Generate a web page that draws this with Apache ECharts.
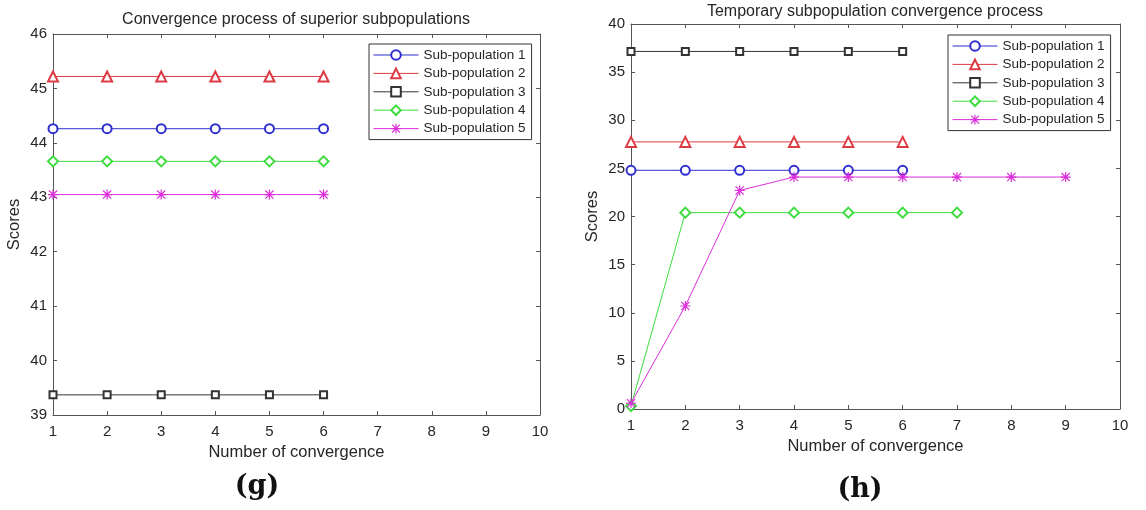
<!DOCTYPE html>
<html>
<head>
<meta charset="utf-8">
<title>Subpopulation convergence</title>
<script src="https://cdn.jsdelivr.net/npm/echarts@6/dist/echarts.min.js"></script>
<style>
  html, body { margin: 0; padding: 0; background: #fff; }
  #chart { width: 1146px; height: 510px; }
</style>
</head>
<body>
<div id="chart"></div>
<script>
// ---- data ----
const seriesNames = ['Sub-population 1', 'Sub-population 2', 'Sub-population 3', 'Sub-population 4', 'Sub-population 5'];

// (g) superior subpopulations: scores per convergence step
const superiorSteps = [1, 2, 3, 4, 5, 6];
const superiorSub1 = [44.26, 44.26, 44.26, 44.26, 44.26, 44.26];
const superiorSub2 = [45.22, 45.22, 45.22, 45.22, 45.22, 45.22];
const superiorSub3 = [39.37, 39.37, 39.37, 39.37, 39.37, 39.37];
const superiorSub4 = [43.66, 43.66, 43.66, 43.66, 43.66, 43.66];
const superiorSub5 = [43.05, 43.05, 43.05, 43.05, 43.05, 43.05];

// (h) temporary subpopulations: scores per convergence step
const tempSteps1 = [1, 2, 3, 4, 5, 6];
const tempSub1 = [24.8, 24.8, 24.8, 24.8, 24.8, 24.8];
const tempSteps2 = [1, 2, 3, 4, 5, 6];
const tempSub2 = [27.75, 27.75, 27.75, 27.75, 27.75, 27.75];
const tempSteps3 = [1, 2, 3, 4, 5, 6];
const tempSub3 = [37.15, 37.15, 37.15, 37.15, 37.15, 37.15];
const tempSteps4 = [1, 2, 3, 4, 5, 6, 7];
const tempSub4 = [0.3, 20.4, 20.4, 20.4, 20.4, 20.4, 20.4];
const tempSteps5 = [1, 2, 3, 4, 5, 6, 7, 8, 9];
const tempSub5 = [0.6, 10.7, 22.7, 24.1, 24.1, 24.1, 24.1, 24.1, 24.1];

// ---- styles ----
const lineColors = ['#2f2fd0', '#dc3b44', '#333333', '#3fdc3f', '#dc2edc'];
// asterisk marker: plus and cross made of thin bars
const asterisk = 'path://M8.8,0H11.2V20H8.8Z M0,8.8H20V11.2H0Z M1,2.7L2.7,1L19,17.3L17.3,19Z M17.3,1L19,2.7L2.7,19L1,17.3Z';
const markers = ['emptyCircle', 'emptyTriangle', 'emptyRect', 'emptyDiamond', asterisk];
const markerSizes = [9, 10, 7, 10, 10];
const textColor = '#262626';
const axisColor = '#555555';
const FONT = 'Liberation Sans, Arial, sans-serif';

function pairs(xs, ys) {
  return xs.map((x, i) => [x, ys[i]]);
}

const superiorData = [
  pairs(superiorSteps, superiorSub1),
  pairs(superiorSteps, superiorSub2),
  pairs(superiorSteps, superiorSub3),
  pairs(superiorSteps, superiorSub4),
  pairs(superiorSteps, superiorSub5)
];
const tempData = [
  pairs(tempSteps1, tempSub1),
  pairs(tempSteps2, tempSub2),
  pairs(tempSteps3, tempSub3),
  pairs(tempSteps4, tempSub4),
  pairs(tempSteps5, tempSub5)
];

const grids = [
  { left: 53, top: 34, width: 487, height: 381 },
  { left: 631, top: 24, width: 489, height: 385 }
];

function baseAxis(extra) {
  return Object.assign({
    type: 'value',
    axisLine: { show: true, onZero: false, lineStyle: { color: axisColor, width: 1 } },
    axisTick: { show: true, inside: true, length: 4, lineStyle: { color: axisColor } },
    splitLine: { show: false },
    axisLabel: { color: textColor, fontFamily: FONT, fontSize: 15 }
  }, extra);
}

const nameStyle = { color: textColor, fontFamily: FONT, fontSize: 16.5 };
const xAxes = [];
const yAxes = [];
const yRanges = [
  { min: 39, max: 46, interval: 1 },
  { min: 0, max: 40, interval: 5 }
];
[0, 1].forEach(g => {
  // bottom axis with labels and name
  xAxes.push(baseAxis({
    gridIndex: g, position: 'bottom', min: 1, max: 10, interval: 1,
    name: 'Number of convergence', nameLocation: 'middle', nameGap: 29,
    nameTextStyle: nameStyle,
    axisLabel: { color: textColor, fontFamily: FONT, fontSize: 15, margin: 9 }
  }));
  // top box edge with inward ticks
  xAxes.push(baseAxis({
    gridIndex: g, position: 'top', min: 1, max: 10, interval: 1,
    axisLabel: { show: false }
  }));
  // left axis with labels and name
  yAxes.push(baseAxis(Object.assign({
    gridIndex: g, position: 'left',
    name: 'Scores', nameLocation: 'middle', nameGap: 30,
    nameTextStyle: nameStyle,
    axisLabel: { color: textColor, fontFamily: FONT, fontSize: 15, margin: 6 }
  }, yRanges[g])));
  // right box edge with inward ticks
  yAxes.push(baseAxis(Object.assign({
    gridIndex: g, position: 'right',
    axisLabel: { show: false }
  }, yRanges[g])));
});

const series = [];
[superiorData, tempData].forEach((set, g) => {
  set.forEach((data, i) => {
    series.push({
      type: 'line',
      name: seriesNames[i],
      xAxisIndex: g * 2,
      yAxisIndex: g * 2,
      data: data,
      symbol: markers[i],
      symbolSize: markerSizes[i],
      showAllSymbol: true,
      lineStyle: { color: lineColors[i], width: 1 },
      itemStyle: { color: lineColors[i], borderWidth: 1 },
      emphasis: { disabled: true }
    });
  });
});

function legendAt(left, top) {
  return {
    orient: 'vertical',
    left: left, top: top,
    data: seriesNames,
    selectedMode: false,
    itemWidth: 45, itemHeight: 12, itemGap: 4.4,
    padding: [4, 6, 4, 4],
    backgroundColor: '#fff',
    borderColor: '#333', borderWidth: 1,
    lineStyle: { width: 1 },
    itemStyle: { borderWidth: 1 },
    textStyle: { color: textColor, fontFamily: FONT, fontSize: 13.5 }
  };
}

const labelFont = 'bold 27px DejaVu Serif, Liberation Serif, serif';
const option = {
  animation: false,
  backgroundColor: '#fff',
  grid: grids.map(g => Object.assign({ show: false, containLabel: false }, g)),
  xAxis: xAxes,
  yAxis: yAxes,
  series: series,
  legend: [legendAt(369, 44), legendAt(948, 35)],
  graphic: [
    { type: 'text', x: 296, y: 20, style: { text: 'Convergence process of superior subpopulations', fill: textColor, font: '16px ' + FONT, align: 'center', verticalAlign: 'middle' } },
    { type: 'text', x: 875, y: 12, style: { text: 'Temporary subpopulation convergence process', fill: textColor, font: '16px ' + FONT, align: 'center', verticalAlign: 'middle' } },
    { type: 'text', x: 257, y: 487, style: { text: '(g)', fill: '#111', font: labelFont, align: 'center', verticalAlign: 'middle' } },
    { type: 'text', x: 860, y: 490, style: { text: '(h)', fill: '#111', font: labelFont, align: 'center', verticalAlign: 'middle' } }
  ]
};

const chart = echarts.init(document.getElementById('chart'), null, { renderer: 'canvas' });
chart.setOption(option);
</script>
</body>
</html>
